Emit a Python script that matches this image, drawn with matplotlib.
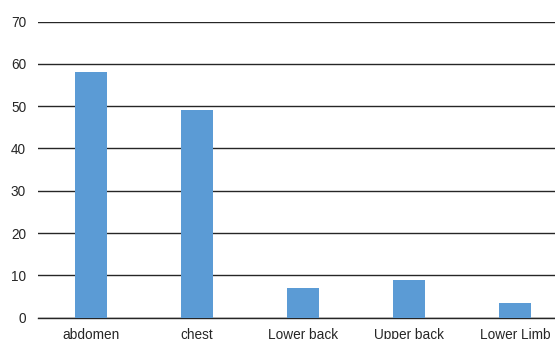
import matplotlib
matplotlib.use("Agg")
import matplotlib.pyplot as plt

# body regions and counts
regions = ["abdomen", "chest", "Lower back", "Upper back", "Lower Limb"]
counts = [58, 49, 7, 8.8, 3.5]
y_ticks = [0, 10, 20, 30, 40, 50, 60, 70]

plt.rcParams["font.family"] = ["Liberation Sans", "DejaVu Sans"]

fig = plt.figure(figsize=(5.55, 3.39), dpi=100)
ax = fig.add_axes([0.0685, 0.0628, 0.955, 0.8737])

x = list(range(len(regions)))
ax.bar(x, counts, width=0.31, color="#5B9BD5", zorder=3)

ax.set_xlim(-0.5, len(regions) - 0.5)
ax.set_ylim(0, 70)
ax.set_yticks(y_ticks)
ax.set_xticks(x)
ax.set_xticklabels(regions)

ax.grid(axis="y", color="#262626", linewidth=1.0, zorder=0)
ax.set_axisbelow(True)
for side in ["top", "right", "left"]:
    ax.spines[side].set_visible(False)
ax.spines["bottom"].set_color("#262626")
ax.spines["bottom"].set_linewidth(1.0)

ax.tick_params(axis="both", length=0, labelsize=9.8, colors="#262626")
ax.tick_params(axis="x", pad=7.6)
ax.tick_params(axis="y", pad=8.6)

fig.savefig("out.png", dpi=100)
